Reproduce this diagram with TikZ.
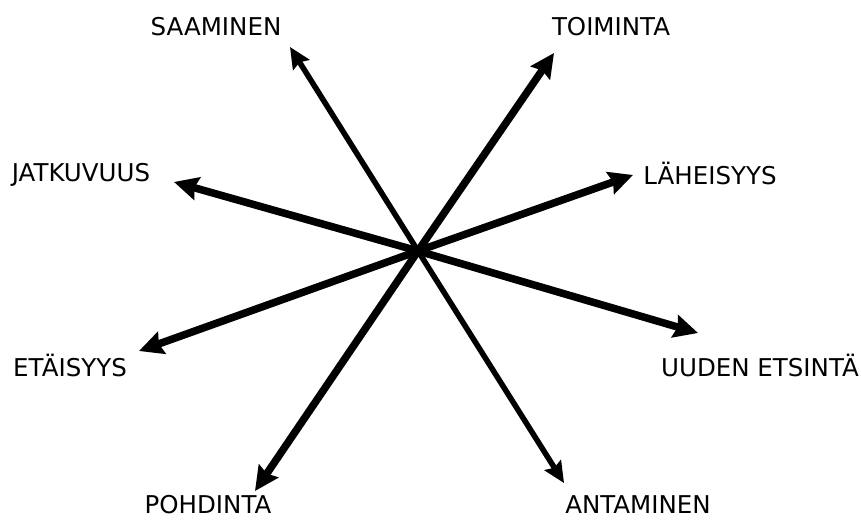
\documentclass[tikz,border=0pt]{standalone}
\usepackage{fontspec}
\setmainfont{DejaVu Sans}
\usetikzlibrary{arrows.meta}
\begin{document}
\begin{tikzpicture}[x=1pt,y=-1pt,
  lbl/.style={font=\fontsize{24.5}{27}\selectfont, inner sep=0pt, anchor=center},
  thickarr/.style={line width=7.5pt, -{Stealth[length=24pt,width=23pt,inset=3pt]}},
  thinarr/.style={line width=5.5pt, -{Stealth[length=21pt,width=19pt,inset=3pt]}},
  shad/.style={draw=black!20, fill=black!20, opacity=0.6, shift={(3pt,-3pt)}}]
\useasboundingbox (0,0) rectangle (861,521);
\coordinate (c) at (418,251);
\coordinate (tSa) at (290,47);
\coordinate (tTo) at (554,53);
\coordinate (tJa) at (174,182);
\coordinate (tLa) at (633,175);
\coordinate (tEt) at (139,351);
\coordinate (tUu) at (698,333);
\coordinate (tPo) at (255,491);
\coordinate (tAn) at (564,483);
% shadows
\foreach \t/\s in {tSa/thinarr,tAn/thinarr,tTo/thickarr,tJa/thickarr,tLa/thickarr,tEt/thickarr,tUu/thickarr,tPo/thickarr}
  \draw[\s, shad] (c) -- (\t);
% arrows
\draw[thinarr] (c) -- (tSa);
\draw[thinarr] (c) -- (tAn);
\draw[thickarr] (c) -- (tTo);
\draw[thickarr] (c) -- (tJa);
\draw[thickarr] (c) -- (tLa);
\draw[thickarr] (c) -- (tEt);
\draw[thickarr] (c) -- (tUu);
\draw[thickarr] (c) -- (tPo);
% labels
\node[lbl] (sa) at (216,27) {SAAMINEN};
\node[lbl] (to) at (611,27) {TOIMINTA};
\node[lbl] (ja) at (81,175) {JATKUVUUS};
\node[lbl] (la) at (710,173) {LÄHEISYYS};
\node[lbl] (et) at (70,365) {ETÄISYYS};
\node[lbl] (uu) at (760,365) {UUDEN ETSINTÄ};
\node[lbl] (po) at (208,505) {POHDINTA};
\node[lbl] (an) at (638,505) {ANTAMINEN};
\end{tikzpicture}
\end{document}
